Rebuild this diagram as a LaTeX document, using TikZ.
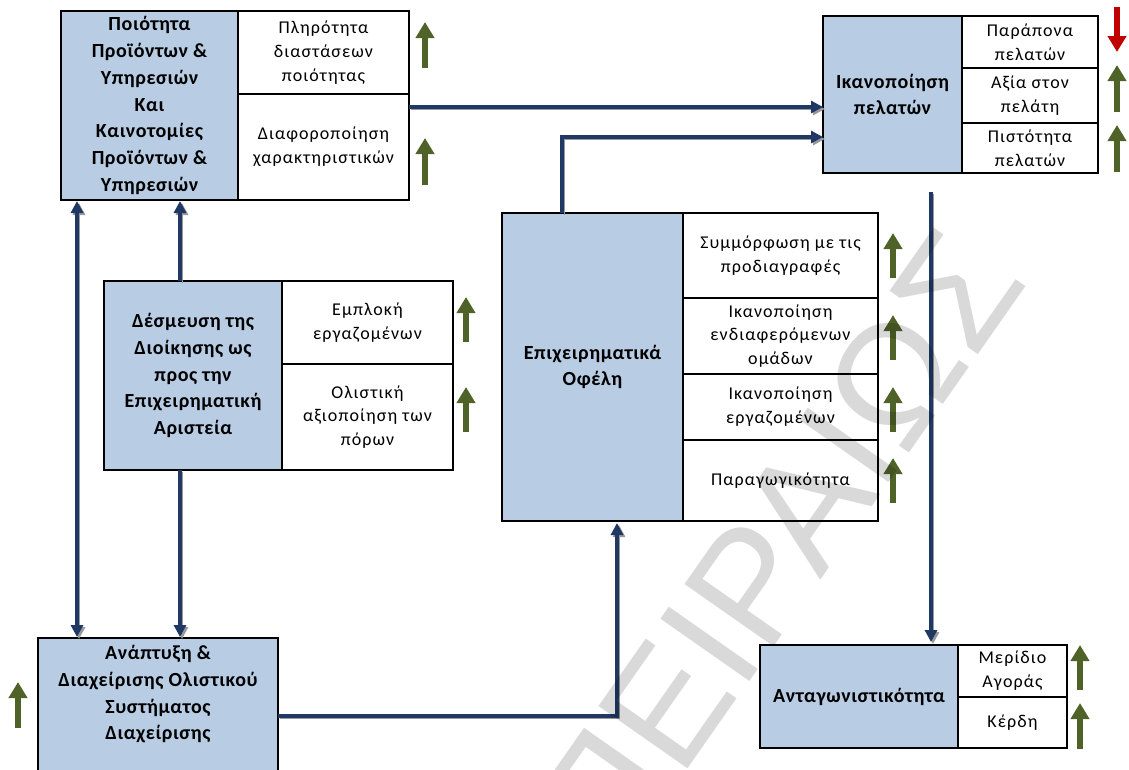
\documentclass[tikz,border=0pt]{standalone}
\usepackage{fontspec}
\setmainfont{Carlito}[LetterSpace=3]
\newfontfamily\subfont{Carlito}[LetterSpace=6]
\newfontfamily\wmfont{Liberation Sans}
\usetikzlibrary{arrows.meta}
\definecolor{cellblue}{RGB}{184,204,228}
\definecolor{linknavy}{RGB}{31,56,100}
\definecolor{upgreen}{RGB}{79,98,40}
\definecolor{downred}{RGB}{192,0,0}

\begin{document}
\begin{tikzpicture}[x=1pt,y=-1pt,
  cell/.style={draw=black, line width=1.3pt, inner sep=0pt, outer sep=0pt, align=center},
  maincell/.style={cell, fill=cellblue, font=\fontsize{20}{26.7}\selectfont\bfseries},
  subcell/.style={cell, fill=white, font=\subfont\fontsize{18}{23.8}\selectfont},
  link/.style={draw=linknavy, line width=3.6pt, -{Triangle[length=12pt,width=12pt]},
    preaction={draw=black!40, transform canvas={xshift=2pt,yshift=-2pt}}},
  linkboth/.style={link, {Triangle[length=12pt,width=12pt]}-{Triangle[length=12pt,width=12pt]}},
  trendup/.style={draw=upgreen, line width=6.5pt, -{Triangle[length=16pt,width=18pt]}},
  trenddown/.style={draw=downred, line width=6.5pt, -{Triangle[length=16pt,width=18pt]}},
]
\clip (0,0) rectangle (1129,769);
\useasboundingbox (0,0) rectangle (1129,769);

% Quality of products and services
\node[maincell, minimum width=177pt, minimum height=189pt] (q) at (149.5,105.5)
  {Ποιότητα\\Προϊόντων \&\\Υπηρεσιών\\Και\\Καινοτομίες\\Προϊόντων \&\\Υπηρεσιών};
\node[subcell, minimum width=171pt, minimum height=83pt] (qr1) at (323.5,52.5)
  {Πληρότητα\\διαστάσεων\\ποιότητας};
\node[subcell, minimum width=171pt, minimum height=106pt] (qr2) at (323.5,147)
  {Διαφοροποίηση\\χαρακτηριστικών};
\draw[trendup] (425,68) -- (425,22);
\draw[trendup] (425,185) -- (425,138);

% Customer satisfaction
\node[maincell, minimum width=139pt, minimum height=157pt] (sat) at (892.5,94.5)
  {Ικανοποίηση\\πελατών};
\node[subcell, minimum width=136pt, minimum height=52pt] (sr1) at (1030,42)
  {Παράπονα\\πελατών};
\node[subcell, minimum width=136pt, minimum height=55pt] (sr2) at (1030,95.5)
  {Αξία στον\\πελάτη};
\node[subcell, minimum width=136pt, minimum height=50pt] (sr3) at (1030,148)
  {Πιστότητα\\πελατών};
\draw[trenddown] (1117,7) -- (1117,52);
\draw[trendup] (1117,112) -- (1117,65);
\draw[trendup] (1117,172) -- (1117,125);

% Management commitment
\node[maincell, minimum width=178pt, minimum height=189pt] (com) at (193,375.5)
  {Δέσμευση της\\Διοίκησης ως\\προς την\\Επιχειρηματική\\Αριστεία};
\node[subcell, minimum width=171pt, minimum height=83pt] (cr1) at (367.5,322.5)
  {Εμπλοκή\\εργαζομένων};
\node[subcell, minimum width=171pt, minimum height=106pt] (cr2) at (367.5,417)
  {Ολιστική\\αξιοποίηση των\\πόρων};
\draw[trendup] (466,342) -- (466,297);
\draw[trendup] (466,432) -- (466,387);

% Business benefits
\node[maincell, minimum width=181pt, minimum height=308pt] (ben) at (592.5,367)
  {Επιχειρηματικά\\Οφέλη};
\node[subcell, minimum width=195pt, minimum height=85pt] (br1) at (780.5,255.5)
  {Συμμόρφωση με τις\\προδιαγραφές};
\node[subcell, minimum width=195pt, minimum height=76pt] (br2) at (780.5,336)
  {Ικανοποίηση\\ενδιαφερόμενων\\ομάδων};
\node[subcell, minimum width=195pt, minimum height=66pt] (br3) at (780.5,407)
  {Ικανοποίηση\\εργαζομένων};
\node[subcell, minimum width=195pt, minimum height=81pt] (br4) at (780.5,480.5)
  {Παραγωγικότητα};
\draw[trendup] (893,278) -- (893,233);
\draw[trendup] (893,360) -- (893,315);
\draw[trendup] (893,432) -- (893,387);
\draw[trendup] (893,503) -- (893,458);

% Competitiveness
\node[maincell, minimum width=198pt, minimum height=103pt] (comp) at (859,696.5)
  {Ανταγωνιστικότητα};
\node[subcell, minimum width=109pt, minimum height=52pt] (cpr1) at (1012.5,671)
  {Μερίδιο\\Αγοράς};
\node[subcell, minimum width=109pt, minimum height=51pt] (cpr2) at (1012.5,722.5)
  {Κέρδη};
\draw[trendup] (1080,690) -- (1080,645);
\draw[trendup] (1080,749) -- (1080,703);

% Holistic management system (runs past the lower edge)
\node[maincell, minimum width=240pt, minimum height=156pt] (dev) at (158,716)
  {\parbox[c][150pt][t]{236pt}{\centering\strut Ανάπτυξη \&\\Διαχείρισης Ολιστικού\\Συστήματος\\Διαχείρισης}};
\draw[trendup] (18,728) -- (18,682);

% Connectors
\coordinate (satin1) at ([yshift=-12.5pt]sat.west);
\coordinate (satin2) at ([yshift=-42.5pt]sat.west);
\draw[link] (qr2.east |- satin1) -- (satin1);
\draw[link] ([xshift=-30.5pt]ben.north) |- (satin2);
\coordinate (satout) at ([xshift=38.5pt]sat.south);
\draw[link, shorten <=19pt, shorten >=3pt] (satout) -- (satout |- comp.north);
\coordinate (qleft) at ([xshift=-72.5pt]q.south);
\draw[linkboth, shorten <=1pt, shorten >=1pt] (qleft |- dev.north) -- (qleft);
\coordinate (comtop) at ([xshift=-13pt]com.north);
\draw[link, shorten >=1pt] (comtop) -- (comtop |- q.south);
\coordinate (combot) at ([xshift=-13pt]com.south);
\draw[link, shorten >=1pt] (combot) -- (combot |- dev.north);
\draw[link, shorten >=2pt] (dev.east) -| ([xshift=24.5pt]ben.south);

% Watermark
\node[rotate=55, anchor=east, inner sep=0pt, text=black, text opacity=0.15,
  font=\wmfont\fontsize{158}{158}\selectfont] (wm) at (985,250) {ΠΑΝΕΠΙΣΤΗΜΙΟ ΠΕΙΡΑΙΩΣ};
\end{tikzpicture}
\end{document}
